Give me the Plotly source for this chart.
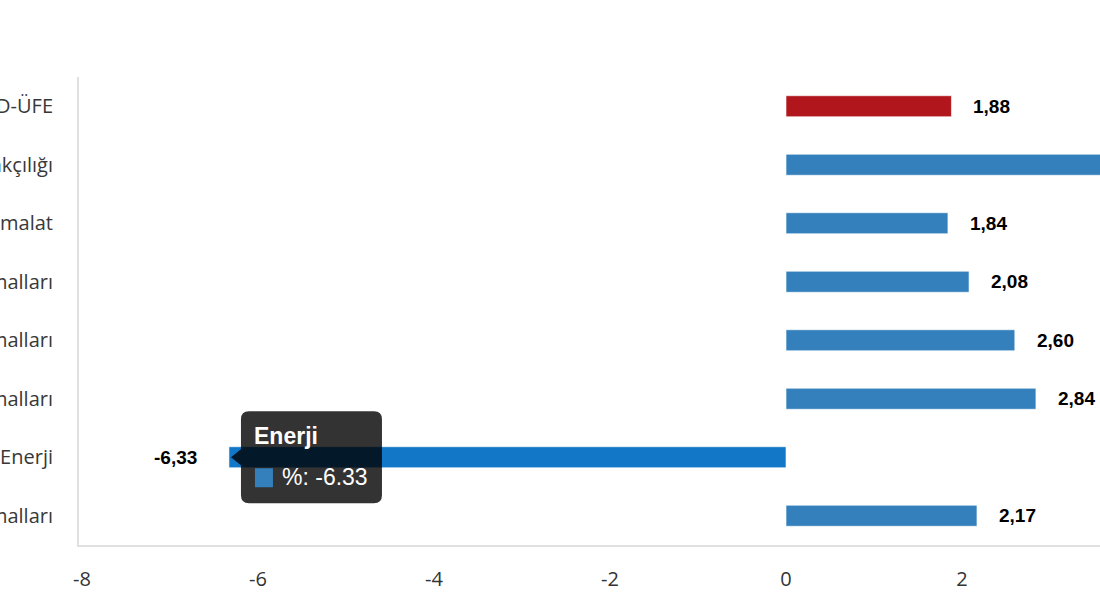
import plotly.graph_objects as go

categories = [
    "Ara malları",
    "Enerji",
    "Sermaye malları",
    "Dayanıksız tüketim malları",
    "Dayanıklı tüketim malları",
    "İmalat",
    "Madencilik ve taşocakçılığı",
    "YD-ÜFE",
]
values = [2.17, -6.33, 2.84, 2.60, 2.08, 1.84, 4.20, 1.88]
colors = ["#3480bc", "#1177c6", "#3480bc", "#3480bc", "#3480bc", "#3480bc", "#3480bc", "#b0161c"]
x_ticks = [-8, -6, -4, -2, 0, 2]
tooltip_category = "Enerji"
tooltip_label = "%"

fig = go.Figure()
fig.add_trace(go.Bar(
    y=categories,
    x=values,
    orientation="h",
    width=0.36,
    marker=dict(color=colors, line=dict(color="rgba(255,255,255,0.6)", width=1)),
    hoverinfo="none",
))

for c, v in zip(categories, values):
    fig.add_annotation(
        x=v, y=c, xref="x", yref="y",
        text="<b>" + f"{v:.2f}".replace(".", ",") + "</b>",
        showarrow=False,
        xanchor="left" if v >= 0 else "right",
        xshift=20 if v >= 0 else -30,
        font=dict(family="Liberation Sans, Arial", size=19, color="#000000"),
    )

# tooltip (hover label) anchored at the Enerji bar end
ti = categories.index(tooltip_category)
tv = values[ti]
r = 8
box = (f"M 12,8 L 2,0 L 12,-8 L 12,{-46 + r} Q 12,-46 {12 + r},-46 L {153 - r},-46 "
       f"Q 153,-46 153,{-46 + r} L 153,{46 - r} Q 153,46 {153 - r},46 L {12 + r},46 "
       f"Q 12,46 12,{46 - r} Z")
fig.add_shape(type="path", xref="x", yref="y", xsizemode="pixel", ysizemode="pixel",
              xanchor=tv, yanchor=ti, path=box,
              fillcolor="rgba(0,0,0,0.8)", line=dict(width=0), layer="above")
fig.add_shape(type="rect", xref="x", yref="y", xsizemode="pixel", ysizemode="pixel",
              xanchor=tv, yanchor=ti, x0=26, x1=44, y0=-11, y1=-30,
              fillcolor="#3480bc", line=dict(width=0), layer="above")
fig.add_annotation(x=tv, y=tooltip_category, xref="x", yref="y",
                   text=f"<b>{tooltip_category}</b>", showarrow=False,
                   xanchor="left", yanchor="middle", xshift=23, yshift=21,
                   font=dict(family="Liberation Sans, Arial", size=23, color="#ffffff"))
fig.add_annotation(x=tv, y=tooltip_category, xref="x", yref="y",
                   text=f"{tooltip_label}: {tv:.2f}", showarrow=False,
                   xanchor="left", yanchor="middle", xshift=51, yshift=-20,
                   font=dict(family="Liberation Sans, Arial", size=23, color="#ffffff"))

fig.update_layout(
    autosize=True,
    margin=dict(l=79, r=0, t=77, b=55),
    plot_bgcolor="#ffffff",
    paper_bgcolor="#ffffff",
    showlegend=False,
    xaxis=dict(
        range=[-8.034, 3.568],
        tickvals=x_ticks,
        ticktext=[str(t) for t in x_ticks],
        showgrid=False,
        zeroline=False,
        showline=True,
        linecolor="#e0e0e0",
        linewidth=2,
        ticks="",
        tickfont=dict(family="Open Sans", size=20, color="#333333"),
        ticklabelstandoff=15,
        fixedrange=True,
    ),
    yaxis=dict(
        type="category",
        categoryorder="array",
        categoryarray=categories,
        range=[-0.5, 7.5],
        automargin=False,
        showgrid=False,
        zeroline=False,
        showline=True,
        linecolor="#e0e0e0",
        linewidth=2,
        ticks="",
        ticklabelstandoff=20,
        tickfont=dict(family="Open Sans", size=20, color="#383838"),
        fixedrange=True,
    ),
)
fig.write_html(
    "out.html",
    config={"displayModeBar": False},
    post_script="document.body.style.margin='0px';"
                "var gd=document.getElementById('{plot_id}');"
                "gd.style.width='100vw';gd.style.height='100vh';"
                "Plotly.Plots.resize(gd);",
)
